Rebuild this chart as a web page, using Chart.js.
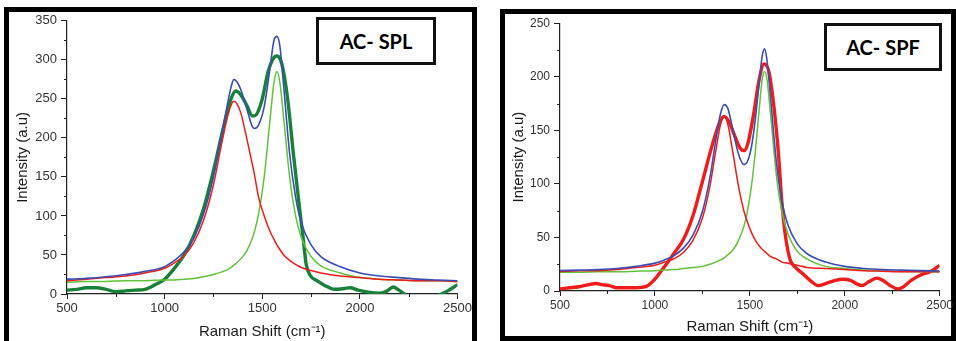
<!DOCTYPE html>
<html>
<head>
<meta charset="utf-8">
<script src="https://cdn.jsdelivr.net/npm/chart.js@4.4.1/dist/chart.umd.min.js"></script>
<style>
  html, body { margin: 0; padding: 0; background: #fff; }
  body { width: 956px; height: 341px; position: relative; overflow: hidden; }
  .panel { position: absolute; border: 5px solid #000; box-sizing: border-box; }
  .tag {
    position: absolute; box-sizing: border-box; border: 3px solid #111; background: #fff;
    display: flex; align-items: center; justify-content: center;
    font-family: Lato, 'Open Sans', sans-serif; font-weight: 700; font-size: 20px; color: #000;
  }
  canvas { position: absolute; }
</style>
</head>
<body>
<div class="panel" style="left:4px;top:7px;width:473px;height:345px"></div>
<div class="panel" style="left:500px;top:9px;width:456px;height:332px"></div>
<canvas id="splChart" width="464" height="332" style="left:10px;top:9px"></canvas>
<canvas id="spfChart" width="449" height="322" style="left:506px;top:12px"></canvas>
<div class="tag" style="left:316px;top:17px;width:120px;height:48px">AC- SPL</div>
<div class="tag" style="left:824px;top:23px;width:118px;height:48px">AC- SPF</div>

<script>
// ============================================================
// Raman spectra — AC-SPL (left) and AC-SPF (right)
// ============================================================

// --- AC-SPL: fitted curves (D band, G band, cumulative fit) ---
const splFitX = [500, 600, 700, 800, 900, 1000, 1050, 1100, 1150, 1200, 1250, 1290, 1320, 1340, 1355,
  1370, 1390, 1420, 1450, 1460, 1480, 1510, 1540, 1560, 1575, 1590, 1610, 1640, 1670, 1700,
  1750, 1800, 1900, 2000, 2100, 2200, 2300, 2400, 2500];
const splD = [17, 19, 21, 23, 27, 33, 40, 49, 66, 95, 140, 190, 225, 242, 247,
  244, 232, 200, 165, 153, 125, 100, 80, 70, 63, 57, 50, 43, 38, 34,
  30, 27, 23, 21, 19, 18, 17, 17, 16];
const splG = [15, 16, 16, 17, 17, 18, 18, 19, 20, 22, 25, 28, 31, 34, 37,
  40, 45, 55, 72, 80, 101, 150, 224, 271, 285, 271, 224, 150, 101, 72,
  48, 36, 27, 21, 19, 18, 17, 17, 16];
const splSum = [19, 20, 22, 25, 29, 35, 43, 54, 72, 103, 150, 203, 241, 265, 275,
  272, 262, 238, 214, 212, 216, 240, 290, 325, 330, 318, 265, 180, 125, 91,
  63, 48, 35, 27, 23, 21, 19, 18, 17];
// --- AC-SPL: measured spectrum ---
const splExpX = [500, 550, 600, 650, 700, 750, 800, 850, 900, 930, 960, 1000, 1050, 1100, 1150, 1200,
  1250, 1300, 1340, 1365, 1390, 1420, 1450, 1470, 1500, 1530, 1560, 1575, 1600, 1630, 1660,
  1690, 1710, 1725, 1745, 1780, 1820, 1870, 1920, 1950, 1990, 2050, 2100, 2140, 2170, 2200,
  2240, 2280, 2350, 2400, 2450, 2500];
const splExp = [5, 6, 8, 8, 6, 3, 4, 5, 6, 9, 13, 19, 33, 50, 75, 110,
  158, 212, 250, 260, 255, 242, 228, 230, 250, 285, 303, 305, 295, 250, 178,
  112, 70, 38, 24, 17, 11, 6, 7, 8, 5, 2, 1, 4, 9, 5,
  -2, -8, -8, -2, 4, 12];

// --- AC-SPF: fitted curves ---
const spfFitX = [500, 600, 700, 800, 900, 1000, 1050, 1100, 1150, 1200, 1250, 1290, 1320, 1345, 1365,
  1385, 1410, 1440, 1470, 1490, 1510, 1530, 1550, 1565, 1578, 1590, 1610, 1640, 1670, 1700,
  1750, 1800, 1900, 2000, 2100, 2200, 2300, 2400, 2500];
const spfD = [18, 19, 19, 20, 22, 24, 27, 30, 36, 47, 68, 98, 130, 155, 163,
  155, 130, 98, 74, 63, 54, 47, 42, 39, 37, 35, 32, 30, 27, 26,
  24, 22, 21, 20, 19, 18.5, 18, 18, 18];
const spfG = [17.5, 17.5, 18, 18, 18.5, 19, 19.5, 20, 21, 22, 23, 25, 27, 29, 31,
  34, 38, 47, 61, 77, 100, 132, 171, 197, 205, 198, 163, 108, 73, 54,
  37, 30, 23, 21, 19.5, 18.7, 18.3, 18, 17.8];
const spfSum = [19, 19.5, 20, 21, 23, 26, 29, 33, 40, 52, 74, 106, 140, 165, 174,
  170, 151, 128, 118, 122, 136, 162, 196, 219, 226, 216, 179, 120, 83, 62,
  44, 35, 27, 23, 21, 20, 19.5, 19, 18.7];
// --- AC-SPF: measured spectrum ---
const spfExpX = [500, 550, 600, 650, 690, 720, 760, 800, 850, 900, 950, 970, 1000, 1030, 1060, 1100,
  1150, 1200, 1250, 1300, 1340, 1365, 1390, 1420, 1450, 1470, 1490, 1520, 1550, 1575, 1600,
  1625, 1650, 1670, 1685, 1700, 1715, 1740, 1780, 1830, 1860, 1900, 1950, 1990, 2030, 2060,
  2090, 2130, 2170, 2200, 2240, 2280, 2310, 2350, 2400, 2450, 2500];
const spfExp = [2, 3, 4, 6, 7, 6, 5, 3, 3, 3, 4, 6, 11, 18, 25, 35,
  48, 70, 102, 135, 157, 163, 158, 145, 133, 131, 138, 165, 198, 212, 205,
  175, 130, 80, 55, 38, 28, 22, 16, 8, 5, 7, 10, 11, 10, 7,
  5, 9, 12, 10, 5, 2, 4, 10, 15, 18, 24];

// --- axis ticks ---
const xMinor = [750, 1250, 1750, 2250];
const splYMinor = [25, 75, 125, 175, 225, 275, 325];
const spfYMinor = [25, 75, 125, 175, 225];

const COLORS = { blue: '#3a4db4', red: '#f01c1c', lime: '#62c23a', forest: '#17813a' };

const pts = (xs, ys) => xs.map((x, i) => ({ x, y: ys[i] }));
const line = (data, color, width) => ({
  data, borderColor: color, borderWidth: width, pointRadius: 0, fill: false,
  cubicInterpolationMode: 'monotone'
});

// short unlabelled ticks between the labelled ones
const minorTicks = {
  id: 'minorTicks',
  afterDraw(chart, args, opts) {
    const { ctx, scales: { x, y } } = chart;
    ctx.save();
    ctx.strokeStyle = '#222';
    ctx.lineWidth = 1;
    ctx.beginPath();
    (opts.x || []).forEach(v => {
      const p = Math.round(x.getPixelForValue(v)) + 0.5;
      ctx.moveTo(p, x.top); ctx.lineTo(p, x.top + 3);
    });
    (opts.y || []).forEach(v => {
      const p = Math.round(y.getPixelForValue(v)) + 0.5;
      ctx.moveTo(y.right, p); ctx.lineTo(y.right - 3, p);
    });
    ctx.stroke();
    ctx.restore();
  }
};

function makeSpectrumChart(canvasId, datasets, cfg) {
  const ctx = document.getElementById(canvasId);
  const tickFont = { family: "'Liberation Sans', Arial, sans-serif", size: cfg.tickSize };
  const titleFont = { family: "'Liberation Sans', Arial, sans-serif", size: cfg.titleSize, lineHeight: 1 };
  return new Chart(ctx, {
    type: 'line',
    data: { datasets },
    plugins: [minorTicks],
    options: {
      responsive: false, animation: false, devicePixelRatio: 1,
      layout: { padding: { top: cfg.padTop, right: cfg.padRight, left: 0, bottom: 0 } },
      plugins: {
        legend: { display: false }, tooltip: { enabled: false },
        minorTicks: { x: xMinor, y: cfg.yMinor }
      },
      scales: {
        x: {
          type: 'linear', min: 500, max: 2500,
          ticks: { stepSize: 500, color: '#333', font: tickFont, padding: 2, callback: v => String(v) },
          grid: { drawOnChartArea: false, drawTicks: true, tickLength: 5, tickColor: '#222' },
          border: { color: '#222', width: 1.2 },
          title: { display: true, text: 'Raman Shift (cm\u207B\u00B9)', color: '#1a1a1a', font: titleFont,
                   padding: { top: 0, bottom: cfg.xTitlePad } },
          afterFit: s => { s.height = cfg.xHeight; }
        },
        y: {
          min: 0, max: cfg.yMax,
          ticks: { stepSize: 50, color: '#333', font: tickFont, padding: 4, callback: v => String(v) },
          grid: { drawOnChartArea: false, drawTicks: true, tickLength: 6, tickColor: '#222' },
          border: { color: '#222', width: 1.2 },
          title: { display: true, text: 'Intensity (a.u)', color: '#1a1a1a', font: titleFont,
                   padding: { top: cfg.yTitlePad, bottom: 0 } },
          afterFit: s => { s.width = cfg.yWidth; }
        }
      }
    }
  });
}

makeSpectrumChart('splChart', [
  line(pts(splFitX, splSum), COLORS.blue, 1.6),
  line(pts(splFitX, splD), COLORS.red, 1.5),
  line(pts(splFitX, splG), COLORS.lime, 1.5),
  line(pts(splExpX, splExp), COLORS.forest, 3.4)
], { yMax: 350, yMinor: splYMinor, tickSize: 13, titleSize: 15, padTop: 4, padRight: 10,
     xHeight: 47, yWidth: 57, xTitlePad: 2, yTitlePad: 5 });

makeSpectrumChart('spfChart', [
  line(pts(spfFitX, spfSum), COLORS.blue, 1.6),
  line(pts(spfFitX, spfD), COLORS.red, 1.5),
  line(pts(spfFitX, spfG), COLORS.lime, 1.5),
  line(pts(spfExpX, spfExp), COLORS.red, 3.4)
], { yMax: 250, yMinor: spfYMinor, tickSize: 12, titleSize: 15, padTop: 7, padRight: 11,
     xHeight: 43, yWidth: 54, xTitlePad: 0, yTitlePad: 5 });
</script>
</body>
</html>
